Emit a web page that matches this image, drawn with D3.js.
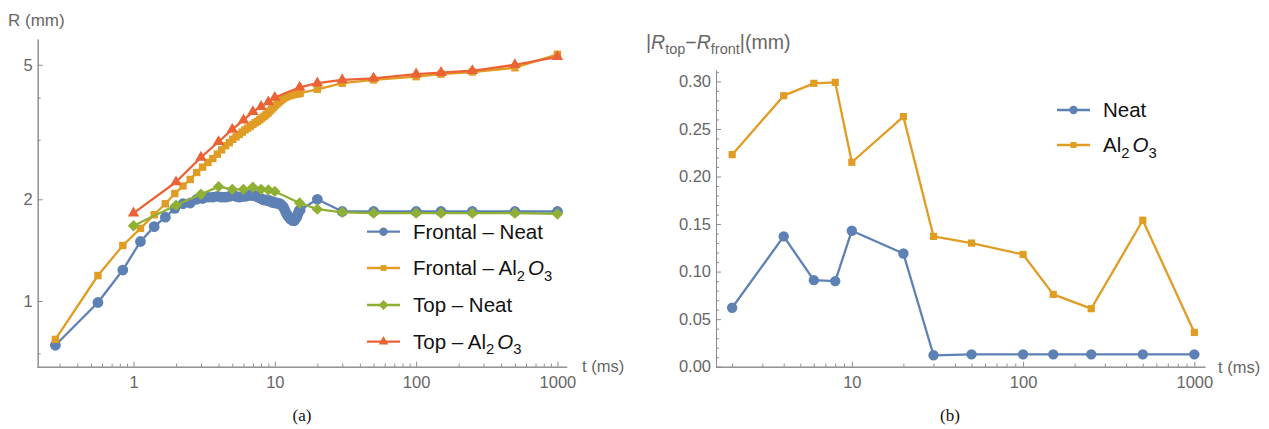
<!DOCTYPE html>
<html>
<head>
<meta charset="utf-8">
<script src="https://cdn.jsdelivr.net/npm/d3@7"></script>
<style>
  body { margin: 0; background: #fff; }
  text { font-family: "Liberation Sans", Arial, sans-serif; }
  text.caption { font-family: "Liberation Serif", "Times New Roman", serif; }
</style>
</head>
<body>
<svg id="chart" width="1269" height="429"></svg>
<script>
'use strict'

// ---- data ----
// frontal camera: one frame every 0.28 ms up to ~15 ms, then sparse
const frontT = [0.28, 0.56, 0.84, 1.12, 1.40, 1.68, 1.96, 2.24, 2.52, 2.80, 3.08, 3.36, 3.64, 3.92, 4.20, 4.48, 4.76,
  5.04, 5.32, 5.60, 5.88, 6.16, 6.44, 6.72, 7.00, 7.28, 7.56, 7.84, 8.12, 8.40, 8.68, 8.96, 9.24, 9.52, 9.80,
  10.08, 10.36, 10.64, 10.92, 11.20, 11.48, 11.76, 12.04, 12.32, 12.60, 12.88, 13.16, 13.44, 13.72, 14.00,
  14.28, 14.56, 14.84, 15.12, 20, 30, 50, 100, 150, 250, 500, 1000]
const frontNeat = [0.74, 0.99, 1.235, 1.50, 1.66, 1.77, 1.88, 1.94, 1.95, 2.00, 2.01, 2.03, 2.03, 2.04, 2.03, 2.03, 2.04,
  2.06, 2.04, 2.03, 2.04, 2.04, 2.05, 2.06, 2.05, 2.05, 2.03, 2.02, 2.00, 1.99, 1.99, 1.98, 1.98, 1.96, 1.96,
  1.95, 1.95, 1.94, 1.94, 1.92, 1.90, 1.86, 1.82, 1.79, 1.77, 1.75, 1.74, 1.73, 1.73, 1.75,
  1.77, 1.81, 1.85, 1.86, 2.00, 1.84, 1.84, 1.84, 1.84, 1.84, 1.84, 1.84]
const frontAl = [0.77, 1.19, 1.46, 1.64, 1.80, 1.94, 2.08, 2.19, 2.29, 2.40, 2.49, 2.57, 2.64, 2.72, 2.80, 2.88, 2.94,
  3.01, 3.06, 3.11, 3.16, 3.21, 3.25, 3.29, 3.33, 3.37, 3.40, 3.44, 3.48, 3.52, 3.56, 3.60, 3.65, 3.70, 3.74,
  3.79, 3.83, 3.87, 3.91, 3.94, 3.97, 4.00, 4.02, 4.04, 4.05, 4.06, 4.07, 4.08, 4.09, 4.10,
  4.10, 4.11, 4.11, 4.12, 4.23, 4.41, 4.51, 4.61, 4.69, 4.76, 4.90, 5.37]

// top camera
const topT = [1, 2, 3, 4, 5, 6, 7, 8, 9, 10, 15, 20, 30, 50, 100, 150, 250, 500, 1000]
const topNeat = [1.67, 1.92, 2.07, 2.18, 2.14, 2.14, 2.17, 2.14, 2.13, 2.11, 1.95, 1.87, 1.83, 1.82, 1.82, 1.82, 1.82, 1.82, 1.81]
const topAl = [1.82, 2.25, 2.66, 2.96, 3.22, 3.43, 3.63, 3.76, 3.88, 4.00, 4.29, 4.41, 4.51, 4.56, 4.69, 4.74, 4.80, 5.00, 5.28]

// |R_top - R_front|
const diffT = [2, 4, 6, 8, 10, 20, 30, 50, 100, 150, 250, 500, 1000]
const diffNeat = [0.062, 0.137, 0.091, 0.090, 0.143, 0.119, 0.012, 0.013, 0.013, 0.013, 0.013, 0.013, 0.013]
const diffAl = [0.223, 0.285, 0.298, 0.299, 0.215, 0.263, 0.137, 0.130, 0.118, 0.076, 0.061, 0.154, 0.036]

const legendA = ['Frontal – Neat', 'Frontal – Al2O3', 'Top – Neat', 'Top – Al2O3']
const legendB = ['Neat', 'Al2O3']
const xMajor = [1, 10, 100, 1000]
const yMajorA = [1, 2, 5]
const yMinorA = [0.7, 3, 4]
const yMajorB = [0, 0.05, 0.10, 0.15, 0.20, 0.25, 0.30]

const blue = '#5e81b5', orange = '#e19c24', green = '#8fb032', red = '#eb6235'
const axisColor = '#8c8c8c', labelColor = '#666'
const tickFont = 16.5

const svg = d3.select('#chart')

// minor ticks of a log axis: 2..9 times each decade, inside the domain
function logMinor(domain) {
  let out = []
  for (let e = -1; e <= 3; e++) {
    for (let m = 2; m <= 9; m++) {
      const v = m * Math.pow(10, e)
      if (v > domain[0] && v < domain[1]) out.push(v)
    }
  }
  return out
}

function styleAxis(g) {
  g.select('.domain').attr('stroke', axisColor).attr('stroke-width', 1)
  g.selectAll('.tick line').attr('stroke', axisColor)
  g.selectAll('.tick text').attr('fill', labelColor).attr('font-size', tickFont)
}

// symbol path for each series
function marker(kind, s) {
  if (kind === 'circle') return d3.symbol(d3.symbolCircle, s * s * Math.PI)()
  if (kind === 'square') return d3.symbol(d3.symbolSquare, s * s * 4)()
  if (kind === 'diamond') return d3.symbol(d3.symbolSquare, s * s * 2)()
  return d3.symbol(d3.symbolTriangle, s * s * 1.3)()
}

function drawSeries(g, x, y, ts, vals, color, kind, size) {
  const pts = ts.map((t, i) => [t, vals[i]])
  g.append('path')
    .attr('d', d3.line().x(d => x(d[0])).y(d => y(d[1]))(pts))
    .attr('fill', 'none').attr('stroke', color).attr('stroke-width', 2.3)
    .attr('stroke-linejoin', 'round')
  g.selectAll(null).data(pts).enter().append('path')
    .attr('d', marker(kind, size))
    .attr('transform', d => `translate(${x(d[0])},${y(d[1])})` + (kind === 'diamond' ? ' rotate(45)' : ''))
    .attr('fill', color)
}

function legendText(sel, label, size) {
  if (label.endsWith('Al2O3')) {
    sel.append('tspan').text(label.replace('Al2O3', 'Al'))
    sel.append('tspan').attr('font-size', size * 0.72).attr('dy', size * 0.26).text('2')
    sel.append('tspan').attr('dy', -size * 0.26).attr('dx', 3).attr('font-style', 'italic').text('O')
    sel.append('tspan').attr('font-size', size * 0.72).attr('dy', size * 0.26).text('3')
  } else {
    sel.text(label)
  }
}

function drawLegend(g, items, x0, rows, size) {
  items.forEach((it, i) => {
    const y = rows[i]
    g.append('line').attr('x1', x0).attr('x2', x0 + 33).attr('y1', y).attr('y2', y)
      .attr('stroke', it.color).attr('stroke-width', 2.3)
    g.append('path').attr('d', marker(it.kind, it.size))
      .attr('transform', `translate(${x0 + 16.5},${y})` + (it.kind === 'diamond' ? ' rotate(45)' : ''))
      .attr('fill', it.color)
    const t = g.append('text').attr('x', x0 + 46).attr('y', y + size * 0.36)
      .attr('font-size', size).attr('fill', '#111')
    legendText(t, it.label, size)
  })
}

// ================= panel (a) =================
const xA = d3.scaleLog().domain([0.2075, 1163]).range([37, 566.7])
const yA = d3.scaleLog().domain([0.638, 5.96]).range([367, 39])
const gA = svg.append('g')

gA.append('g').attr('transform', 'translate(0,366.7)')
  .call(d3.axisBottom(xA).tickValues(logMinor(xA.domain())).tickSize(-3).tickSizeOuter(0).tickFormat(''))
  .call(styleAxis)
gA.append('g').attr('transform', 'translate(0,366.7)')
  .call(d3.axisBottom(xA).tickValues(xMajor).tickSize(-5).tickSizeOuter(0).tickPadding(10).tickFormat(d3.format('d')))
  .call(styleAxis)
gA.append('g').attr('transform', 'translate(37.7,0)')
  .call(d3.axisLeft(yA).tickValues(yMinorA).tickSize(-3).tickSizeOuter(0).tickFormat(''))
  .call(styleAxis)
gA.append('g').attr('transform', 'translate(37.7,0)')
  .call(d3.axisLeft(yA).tickValues(yMajorA).tickSize(-5).tickSizeOuter(0).tickPadding(5).tickFormat(d3.format('d')))
  .call(styleAxis)

gA.append('text').attr('x', 8).attr('y', 26).attr('font-size', 17).attr('fill', labelColor).text('R (mm)')
gA.append('text').attr('x', 582).attr('y', 372).attr('font-size', tickFont).attr('fill', labelColor).text('t (ms)')

drawSeries(gA, xA, yA, frontT, frontNeat, blue, 'circle', 5.4)
drawSeries(gA, xA, yA, frontT, frontAl, orange, 'square', 3.7)
drawSeries(gA, xA, yA, topT, topNeat, green, 'diamond', 5.7)
drawSeries(gA, xA, yA, topT, topAl, red, 'triangle', 6.6)

drawLegend(gA, [
  { label: legendA[0], color: blue, kind: 'circle', size: 4.2 },
  { label: legendA[1], color: orange, kind: 'square', size: 2.9 },
  { label: legendA[2], color: green, kind: 'diamond', size: 5 },
  { label: legendA[3], color: red, kind: 'triangle', size: 5.6 }
], 367, [231.7, 268, 305, 341.7], 20.5)

// ================= panel (b) =================
const xB = d3.scaleLog().domain([1.61, 1154]).range([716, 1205])
const yB = d3.scaleLinear().domain([0, 0.312]).range([366.7, 70])
const gB = svg.append('g')

const yMinorB = d3.range(1, 32).map(i => i / 100).filter(v => Math.round(v * 100) % 5 !== 0)
gB.append('g').attr('transform', 'translate(0,366.7)')
  .call(d3.axisBottom(xB).tickValues(logMinor(xB.domain())).tickSize(-3).tickSizeOuter(0).tickFormat(''))
  .call(styleAxis)
gB.append('g').attr('transform', 'translate(0,366.7)')
  .call(d3.axisBottom(xB).tickValues([10, 100, 1000]).tickSize(-5).tickSizeOuter(0).tickPadding(10).tickFormat(d3.format('d')))
  .call(styleAxis)
gB.append('g').attr('transform', 'translate(716,0)')
  .call(d3.axisLeft(yB).tickValues(yMinorB).tickSize(-3).tickSizeOuter(0).tickFormat(''))
  .call(styleAxis)
gB.append('g').attr('transform', 'translate(716,0)')
  .call(d3.axisLeft(yB).tickValues(yMajorB).tickSize(-5).tickSizeOuter(0).tickPadding(5).tickFormat(d3.format('.2f')))
  .call(styleAxis)

const yl = gB.append('text').attr('x', 646).attr('y', 49).attr('font-size', 19.5).attr('fill', labelColor)
yl.append('tspan').text('|')
yl.append('tspan').attr('font-style', 'italic').text('R')
yl.append('tspan').attr('font-size', 14.5).attr('dy', 4.5).text('top')
yl.append('tspan').attr('dy', -4.5).text('−')
yl.append('tspan').attr('font-style', 'italic').text('R')
yl.append('tspan').attr('font-size', 14.5).attr('dy', 4.5).text('front')
yl.append('tspan').attr('dy', -4.5).text('|(mm)')

gB.append('text').attr('x', 1218).attr('y', 373).attr('font-size', tickFont).attr('fill', labelColor).text('t (ms)')

drawSeries(gB, xB, yB, diffT, diffNeat, blue, 'circle', 5.2)
drawSeries(gB, xB, yB, diffT, diffAl, orange, 'square', 3.6)

drawLegend(gB, [
  { label: legendB[0], color: blue, kind: 'circle', size: 4.2 },
  { label: legendB[1], color: orange, kind: 'square', size: 3 }
], 1057, [110, 145], 20.5)

// captions
svg.append('text').attr('class', 'caption').attr('x', 302).attr('y', 421).attr('text-anchor', 'middle')
  .attr('font-size', 17).attr('fill', '#111').text('(a)')
svg.append('text').attr('class', 'caption').attr('x', 950).attr('y', 421).attr('text-anchor', 'middle')
  .attr('font-size', 17).attr('fill', '#111').text('(b)')
</script>
</body>
</html>
